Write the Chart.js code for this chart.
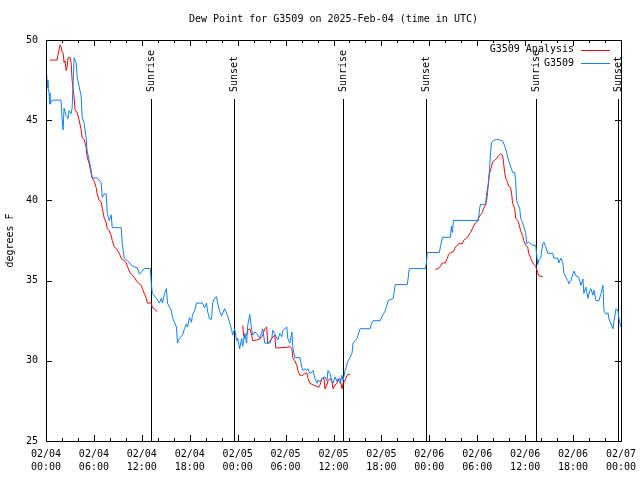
<!DOCTYPE html>
<html>
<head>
<meta charset="utf-8">
<script src="https://cdn.jsdelivr.net/npm/chart.js@4.4.1/dist/chart.umd.min.js"></script>
<style>
  html, body { margin: 0; padding: 0; background: #fff; }
  canvas { display: block; }
</style>
</head>
<body>
<canvas id="dew" width="640" height="480"></canvas>
<script>
// x is hours since 02/04 00:00 UTC
const tickDates = ['02/04','02/04','02/04','02/04','02/05','02/05','02/05','02/05','02/06','02/06','02/06','02/06','02/07'];
const tickTimes = ['00:00','06:00','12:00','18:00','00:00','06:00','12:00','18:00','00:00','06:00','12:00','18:00','00:00'];

const sunHours = [13.19, 23.50, 37.20, 47.63, 61.32, 71.63];
const sunLabels = ['Sunrise', 'Sunset', 'Sunrise', 'Sunset', 'Sunrise', 'Sunset'];

// G3509 Analysis (null = gap)
const analysis = [
  [0.50,48.75],[1.38,48.75],[1.51,49.1],[1.76,49.7],[1.88,49.6],[2.01,49.25],[2.14,49.2],[2.26,48.6],
  [2.39,48.7],[2.51,48.1],[2.64,48.3],[2.76,48.9],[3.02,48.9],[3.14,48.6],[3.27,47.5],[3.52,46.4],
  [3.64,45.6],[3.90,45.5],[4.15,45.0],[4.40,44.4],[4.52,43.9],[4.78,43.8],[5.03,43.3],[5.15,42.7],
  [5.40,42.3],[5.65,41.7],[5.78,41.4],[6.03,41.2],[6.28,40.8],[6.41,40.4],[6.66,40.0],[6.91,39.9],
  [7.04,39.5],[7.29,38.9],[7.54,38.6],[7.67,38.25],[7.92,38.1],[8.17,37.8],[8.29,37.5],[8.55,37.1],
  [8.80,37.0],[8.92,36.9],[9.17,36.7],[9.42,36.4],[9.55,36.3],[9.80,36.25],[10.05,36.1],[10.18,35.9],
  [10.43,35.6],[10.68,35.4],[11.06,35.2],[11.31,35.0],[11.44,34.9],[11.94,34.7],[12.06,34.5],[12.31,34.2],
  [12.57,33.9],[12.69,33.6],[13.19,33.6],[13.32,33.3],[13.57,33.25],[13.82,33.1],[13.95,33.1],
  [19.00,null],
  [24.63,32.2],[24.75,31.6],[24.88,31.4],[25.13,31.7],[25.26,31.9],[25.51,32.0],[25.76,31.6],[25.89,31.25],
  [26.39,31.3],[26.77,31.35],[27.02,31.5],[27.14,31.6],[27.39,32.0],[27.64,32.1],[27.77,31.1],[28.02,31.2],
  [28.27,31.4],[28.65,31.6],[28.77,30.8],[29.03,30.8],[30.28,30.85],[30.53,30.9],[30.79,30.75],[30.91,30.2],
  [31.16,30.0],[31.41,29.7],[31.54,29.4],[31.79,29.1],[32.17,29.1],[32.42,29.2],[32.67,29.25],[32.80,28.9],
  [33.05,28.6],[33.43,28.5],[33.93,28.4],[34.18,28.35],[34.31,28.5],[34.56,28.9],[34.81,28.9],[34.93,28.25],
  [35.18,28.5],[35.31,28.75],[35.56,28.9],[35.81,28.7],[35.94,28.25],[36.19,28.5],[36.44,28.6],[36.57,28.75],
  [36.82,28.9],[37.07,28.25],[37.20,28.6],[37.45,28.75],[37.70,29.1],[37.82,29.15],[38.07,29.15],
  [43.00,null],
  [48.76,35.7],[49.13,35.75],[49.38,35.9],[49.64,36.1],[50.01,36.1],[50.26,36.4],[50.39,36.6],[50.64,36.75],
  [51.02,36.8],[51.27,37.1],[51.52,37.2],[51.65,37.3],[52.15,37.3],[52.28,37.5],[52.78,37.7],[52.90,37.8],
  [53.16,38.0],[53.41,38.25],[53.53,38.4],[53.78,38.6],[54.04,38.7],[54.16,38.9],[54.41,39.1],[54.66,39.25],
  [54.79,39.5],[55.04,39.7],[55.17,40.0],[55.29,40.5],[55.42,41.25],[55.54,41.7],[55.79,42.1],[55.92,42.4],
  [56.17,42.5],[56.42,42.6],[56.68,42.8],[56.93,42.9],[57.18,42.8],[57.30,42.3],[57.43,41.75],[57.55,41.4],
  [57.68,41.25],[57.80,41.1],[57.93,40.9],[58.18,40.8],[58.31,40.4],[58.43,39.8],[58.68,39.5],[58.81,38.9],
  [59.06,38.75],[59.18,38.6],[59.44,38.1],[59.69,37.8],[59.81,37.5],[60.06,37.2],[60.32,37.1],[60.44,36.7],
  [60.70,36.4],[60.95,36.1],[61.32,35.9],[61.57,35.5],[61.70,35.3],[62.20,35.25]
];

// G3509 observations
const observed = [
  [0.00,48.25],[0.13,47.5],[0.25,47.0],[0.38,46.7],[0.50,46.0],[0.75,46.25],[1.88,46.25],[2.01,45.1],
  [2.14,44.4],[2.26,45.75],[2.51,45.3],[2.76,45.1],[2.89,45.6],[3.14,45.4],[3.27,45.75],[3.52,48.9],
  [3.77,48.6],[3.90,47.7],[4.15,47.1],[4.40,46.5],[4.52,45.2],[4.78,44.8],[5.03,43.9],[5.15,43.1],
  [5.40,42.5],[5.65,41.9],[5.78,41.4],[6.41,41.4],[6.91,41.1],[7.04,40.2],[7.29,40.4],[7.54,40.4],
  [7.67,39.2],[7.92,38.75],[8.17,39.1],[8.29,38.3],[9.42,38.3],[9.55,37.3],[9.80,36.4],[10.18,36.25],
  [10.81,35.9],[11.44,35.8],[11.69,35.4],[12.06,35.6],[12.31,35.75],[13.07,35.75],[13.19,34.8],[13.32,34.2],
  [13.82,33.9],[14.20,33.6],[14.45,33.9],[14.58,33.6],[14.83,34.2],[15.08,34.5],[15.21,33.6],[15.71,33.1],
  [15.83,32.7],[16.08,32.4],[16.34,32.1],[16.46,31.1],[16.71,31.4],[17.09,31.6],[17.34,32.0],[17.59,32.3],
  [17.72,32.1],[17.97,32.7],[18.22,32.4],[18.35,32.9],[18.60,33.1],[18.85,33.6],[19.60,33.6],[19.85,33.3],
  [20.11,33.6],[20.23,33.1],[20.48,32.6],[20.73,32.6],[20.86,33.6],[21.11,33.9],[21.36,34.0],[21.49,33.6],
  [21.74,33.1],[21.99,32.8],[22.37,33.25],[22.74,32.8],[22.99,32.4],[23.25,31.9],[23.37,31.6],[23.62,32.0],
  [23.87,31.25],[24.00,31.4],[24.25,30.75],[24.50,31.4],[24.63,30.9],[24.88,31.7],[25.13,31.1],[25.26,32.2],
  [25.51,32.9],[25.76,31.9],[25.89,31.6],[26.14,31.8],[26.39,31.7],[26.77,31.4],[27.02,31.8],[27.14,32.0],
  [27.39,31.1],[28.02,31.1],[28.27,31.4],[28.40,31.9],[28.65,31.7],[28.90,31.4],[29.03,31.3],[29.28,31.7],
  [29.53,31.5],[29.66,31.9],[29.91,32.0],[30.16,32.1],[30.28,31.4],[30.53,31.1],[30.79,31.8],[30.91,30.8],
  [31.16,30.2],[31.79,30.2],[32.04,29.6],[32.17,29.4],[32.42,29.5],[32.67,29.4],[32.80,29.5],[33.05,29.2],
  [33.30,29.3],[33.43,29.4],[33.68,28.9],[33.93,28.6],[34.05,28.8],[34.31,28.7],[34.56,28.9],[34.68,28.9],
  [34.93,29.0],[35.18,28.75],[35.31,29.4],[35.56,29.2],[35.81,28.75],[35.94,28.6],[36.19,29.0],[36.44,28.7],
  [36.57,28.9],[36.82,28.6],[37.07,29.1],[37.20,28.75],[37.45,29.4],[37.70,29.8],[37.82,30.0],[38.07,30.2],
  [38.33,30.5],[38.45,31.1],[38.70,31.25],[38.95,31.4],[39.33,32.0],[40.59,32.0],[40.71,32.25],[40.97,32.5],
  [41.85,32.5],[42.22,32.9],[42.47,33.1],[42.85,33.75],[43.48,33.9],[43.73,34.75],[45.24,34.75],[45.36,35.2],
  [45.49,35.75],[47.50,35.75],[47.63,36.1],[47.75,36.75],[49.26,36.75],[49.38,37.1],[49.64,37.7],[50.64,37.7],
  [50.77,38.4],[50.89,38.0],[51.02,38.75],[54.16,38.75],[54.29,39.5],[54.41,39.75],[55.04,39.75],[55.17,40.4],
  [55.42,41.1],[55.54,42.0],[55.67,43.0],[55.79,43.6],[56.05,43.75],[56.68,43.8],[57.18,43.7],[57.43,43.4],
  [57.68,43.0],[57.80,42.7],[58.05,42.3],[58.43,41.75],[58.68,41.75],[58.81,41.25],[58.93,40.0],[59.06,39.8],
  [59.31,39.5],[59.44,38.9],[59.56,38.75],[59.81,38.4],[60.06,38.0],[60.19,37.3],[60.44,37.4],[60.95,37.2],
  [61.32,37.2],[61.57,36.0],[61.70,36.3],[61.95,36.4],[62.20,37.3],[62.33,37.4],[62.58,37.1],[62.83,36.7],
  [63.46,36.7],[63.59,36.4],[64.09,36.4],[64.21,36.1],[64.47,36.4],[64.72,36.1],[64.84,35.5],[65.09,35.2],
  [65.34,35.0],[65.47,34.8],[65.72,35.0],[65.97,35.4],[66.10,35.6],[66.35,35.3],[66.72,35.2],[66.98,34.7],
  [67.23,35.1],[67.35,34.2],[67.60,34.6],[67.86,33.9],[68.11,34.4],[68.23,34.5],[68.48,34.1],[68.61,34.4],
  [68.86,33.75],[69.24,33.75],[69.49,34.2],[69.74,34.7],[69.87,33.1],[70.12,32.9],[70.37,33.0],[70.50,32.6],
  [70.75,32.3],[71.00,32.0],[71.13,32.5],[71.38,33.25],[71.63,33.1],[71.75,32.6],[72.00,32.1]
];

const RED = '#ff0000';
const BLUE = '#0a80ff';
const FONT = "'DejaVu Sans Mono', monospace";

const toPoints = rows => rows.map(r => ({ x: r[0], y: r[1] }));

// gnuplot-ish frame: box, inward ticks, sunrise/sunset markers, legend
const frame = {
  id: 'frame',
  beforeDatasetsDraw(chart) {
    const { ctx, chartArea: a, scales } = chart;
    ctx.save();
    ctx.strokeStyle = '#000';
    ctx.lineWidth = 1;
    sunHours.forEach(h => {
      const x = Math.round(scales.x.getPixelForValue(h)) + 0.5;
      ctx.beginPath();
      ctx.moveTo(x, a.top + 59);
      ctx.lineTo(x, a.bottom);
      ctx.stroke();
    });
    ctx.restore();
  },
  afterDraw(chart) {
    const { ctx, chartArea: a, scales } = chart;
    ctx.save();
    ctx.strokeStyle = '#000';
    ctx.lineWidth = 1;
    ctx.strokeRect(a.left + 0.5, a.top + 0.5, a.right - a.left, a.bottom - a.top);

    ctx.beginPath();
    for (let h = 0; h <= 72; h += 2) {
      const x = Math.round(scales.x.getPixelForValue(h)) + 0.5;
      const len = h % 6 === 0 ? 6 : 3;
      ctx.moveTo(x, a.bottom); ctx.lineTo(x, a.bottom - len);
      ctx.moveTo(x, a.top); ctx.lineTo(x, a.top + len);
    }
    for (let v = 25; v <= 50; v += 5) {
      const y = Math.round(scales.y.getPixelForValue(v)) + 0.5;
      ctx.moveTo(a.left, y); ctx.lineTo(a.left + 6, y);
      ctx.moveTo(a.right, y); ctx.lineTo(a.right - 6, y);
    }
    ctx.stroke();

    ctx.fillStyle = '#000';
    ctx.font = '10px ' + FONT;
    sunHours.forEach((h, i) => {
      const x = Math.round(scales.x.getPixelForValue(h)) + 0.5;
      ctx.save();
      ctx.translate(x, a.top + 52);
      ctx.rotate(-Math.PI / 2);
      ctx.textAlign = 'left';
      ctx.textBaseline = 'middle';
      ctx.fillText(sunLabels[i], 0, 0);
      ctx.restore();
    });

    // legend
    const items = [
      { text: 'G3509 Analysis', color: RED, y: a.top + 9.5 },
      { text: 'G3509', color: BLUE, y: a.top + 23 }
    ];
    ctx.textAlign = 'right';
    ctx.textBaseline = 'middle';
    items.forEach(it => {
      ctx.fillStyle = '#000';
      ctx.fillText(it.text, a.right - 47, it.y);
      ctx.strokeStyle = it.color;
      ctx.beginPath();
      ctx.moveTo(a.right - 40, Math.round(it.y) + 0.5);
      ctx.lineTo(a.right - 11, Math.round(it.y) + 0.5);
      ctx.stroke();
    });
    ctx.restore();
  }
};

new Chart(document.getElementById('dew'), {
  type: 'line',
  data: {
    datasets: [
      {
        label: 'G3509',
        data: toPoints(observed),
        borderColor: BLUE,
        borderWidth: 1,
        pointRadius: 0,
        tension: 0,
        fill: false,
        order: 0
      },
      {
        label: 'G3509 Analysis',
        data: toPoints(analysis),
        borderColor: RED,
        borderWidth: 1,
        pointRadius: 0,
        tension: 0,
        fill: false,
        spanGaps: false,
        order: 1
      }
    ]
  },
  options: {
    responsive: false,
    animation: false,
    events: [],
    layout: { padding: { left: 0, right: 19, top: 0, bottom: 0 } },
    scales: {
      x: {
        type: 'linear',
        min: 0,
        max: 72,
        grid: { display: false, drawTicks: false },
        border: { display: false },
        afterFit(scale) {
          scale.height = 39;
          scale.paddingLeft = 0;
          scale.paddingRight = 0;
        },
        ticks: {
          stepSize: 6,
          autoSkip: false,
          maxRotation: 0,
          padding: 7,
          color: '#000',
          font: { family: FONT, size: 10, lineHeight: 1.3 },
          callback: v => [tickDates[v / 6], tickTimes[v / 6]]
        }
      },
      y: {
        min: 25,
        max: 50,
        grid: { display: false, drawTicks: false },
        border: { display: false },
        afterFit(scale) {
          scale.width = 46;
          scale.paddingTop = 0;
          scale.paddingBottom = 0;
        },
        ticks: {
          stepSize: 5,
          padding: 8,
          color: '#000',
          font: { family: FONT, size: 10 }
        },
        title: {
          display: true,
          text: 'degrees F',
          color: '#000',
          padding: { top: 4, bottom: 0 },
          font: { family: FONT, size: 10 }
        }
      }
    },
    plugins: {
      legend: { display: false },
      tooltip: { enabled: false },
      title: {
        display: true,
        fullSize: false,
        text: 'Dew Point for G3509 on 2025-Feb-04 (time in UTC)',
        color: '#000',
        padding: { top: 13, bottom: 15 },
        font: { family: FONT, size: 10, weight: 'normal' }
      }
    }
  },
  plugins: [frame]
});
</script>
</body>
</html>
